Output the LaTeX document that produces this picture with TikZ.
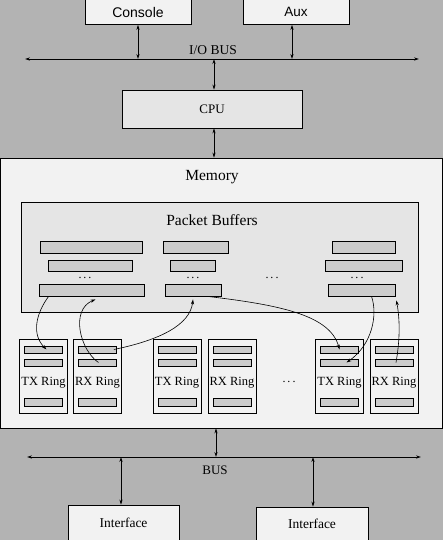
\documentclass[tikz,border=0pt]{standalone}
\usepackage{fontspec}
\setmainfont{Liberation Serif}
\newfontfamily\sansf{Liberation Sans}
\usetikzlibrary{arrows.meta}
\definecolor{bggray}{HTML}{B3B3B3}
\definecolor{memfill}{HTML}{F2F2F2}
\definecolor{pbfill}{HTML}{E5E5E5}
\definecolor{buffill}{HTML}{CCCCCC}
\tikzset{
  tip/.tip={Stealth[length=5pt,width=3.2pt]},
  box/.style={draw=black, line width=0.8pt, inner sep=0pt},
  whitebox/.style={box, fill=memfill},
  buf/.style={box, fill=buffill, minimum height=12pt},
  slot/.style={box, fill=buffill, minimum width=38pt, minimum height=7pt},
  ringbox/.style={box, fill=memfill, minimum width=48pt, minimum height=74pt},
  ringlabel/.style={font=\fontsize{12.5}{14}\selectfont, inner sep=0pt},
  dotsn/.style={font=\fontsize{12}{14}\selectfont, inner sep=0pt, anchor=base},
  conn/.style={line width=0.8pt, {tip}-{tip}},
  curvearrow/.style={line width=0.6pt, -{tip}},
}
\newcommand\mkring[3]{%
  \node[ringbox] (#1) at (#2,376) {};
  \node[slot] (#1a) at (#2,349.5) {};
  \node[slot] (#1b) at (#2,362.5) {};
  \node[slot,minimum height=8pt] (#1c) at (#2,402) {};
  \node[ringlabel] (#1t) at (#2,383) {#3};
}
\begin{document}
\begin{tikzpicture}[x=1pt,y=-1pt]
\useasboundingbox (0,0) rectangle (443,540);
\fill[bggray] (0,0) rectangle (443,540);

% top devices
\node[whitebox, minimum width=106pt, minimum height=25pt, font=\sansf\fontsize{14}{16}\selectfont] (console) at (138,12) {Console};
\node[whitebox, minimum width=106pt, minimum height=25pt, font=\sansf\fontsize{13.5}{16}\selectfont] (aux) at (296,12) {Aux};

% I/O bus
\coordinate (iobL) at (25,59);
\coordinate (iobR) at (419,59);
\coordinate (iobCon) at (138,59);
\coordinate (iobAux) at (292,59);
\coordinate (iobCpu) at (214,59);
\draw[conn] (iobL) -- (iobR);
\node[font=\fontsize{13.5}{15}\selectfont] (iolabel) at (213,50) {I/O BUS};
\draw[conn] (console.south -| iobCon) -- (iobCon);
\draw[conn] (aux.south -| iobAux) -- (iobAux);

% CPU
\node[box, fill=pbfill, minimum width=180pt, minimum height=38pt, font=\fontsize{13}{15}\selectfont] (cpu) at (212,109) {CPU};
\draw[conn] (iobCpu) -- (iobCpu |- cpu.north);

% Memory
\node[whitebox, minimum width=442pt, minimum height=270pt] (mem) at (221,293) {};
\node[font=\fontsize{15.5}{17}\selectfont] (memlabel) at (212,177) {Memory};
\draw[conn] ([xshift=2pt]cpu.south) -- ([xshift=2pt]cpu.south |- mem.north);

% Packet buffers
\node[box, fill=pbfill, minimum width=397pt, minimum height=110pt] (pb) at (219.5,257) {};
\node[font=\fontsize{15.5}{17}\selectfont] (pblabel) at (212,220) {Packet Buffers};

\node[buf, minimum width=102pt] (b11) at (91,247) {};
\node[buf, minimum width=84pt, minimum height=11pt] (b12) at (90,265.5) {};
\node[buf, minimum width=105pt] (b13) at (91.5,290) {};
\node[buf, minimum width=65pt] (b21) at (195.5,247) {};
\node[buf, minimum width=45pt, minimum height=11pt] (b22) at (192.5,265.5) {};
\node[buf, minimum width=56pt] (b23) at (193,290) {};
\node[buf, minimum width=63pt] (b31) at (363.5,247) {};
\node[buf, minimum width=77pt, minimum height=11pt] (b32) at (363.5,265.5) {};
\node[buf, minimum width=67pt] (b33) at (361.5,290) {};
\node[dotsn] (d1) at (85,278) {.\,.\,.};
\node[dotsn] (d2) at (193,278) {.\,.\,.};
\node[dotsn] (d3) at (272,278) {.\,.\,.};
\node[dotsn] (d4) at (357,278) {.\,.\,.};

% rings
\mkring{tx1}{43.5}{TX Ring}
\mkring{rx1}{97.5}{RX Ring}
\mkring{tx2}{177}{TX Ring}
\mkring{rx2}{232}{RX Ring}
\mkring{tx3}{339.5}{TX Ring}
\mkring{rx3}{394}{RX Ring}
\node[dotsn] (d5) at (289,382) {.\,.\,.};

% curved arrows
\draw[curvearrow] ([xshift=10pt]b13.south west) .. controls (35,315) and (32,335) .. ([xshift=3pt]tx1a.center);
\draw[curvearrow] ([xshift=1pt]rx1b.center) .. controls (80,350) and (70,310) .. ([xshift=4pt,yshift=-3pt]b13.south);
\draw[curvearrow] ([xshift=-3pt]rx1a.east) .. controls (160,340) and (190,325) .. ([yshift=-3pt]b23.south);
\draw[curvearrow] ([xshift=-14pt]b23.south east) .. controls (280,305) and (330,315) .. (tx3a.center);
\draw[curvearrow] ([xshift=10pt]b33.south) .. controls (378,315) and (372,345) .. ([xshift=7pt]tx3b.center);
\draw[curvearrow] ([xshift=2pt]rx3b.center) .. controls (400,340) and (400,320) .. ([xshift=1pt,yshift=-4pt]b33.south east);

% bottom bus
\coordinate (busL) at (27,457);
\coordinate (busR) at (421,457);
\coordinate (busMem) at (216,457);
\coordinate (busIf1) at (121,457);
\coordinate (busIf2) at (313,457);
\draw[conn] (busL) -- (busR);
\node[font=\fontsize{13}{15}\selectfont] (buslabel) at (215,470) {BUS};
\draw[conn] (busMem |- mem.south) -- (busMem);

\node[whitebox, minimum width=111pt, minimum height=35pt, font=\fontsize{13.5}{15}\selectfont] (if1) at (123.5,522.5) {Interface};
\node[whitebox, minimum width=112pt, minimum height=34pt, font=\fontsize{13.5}{15}\selectfont] (if2) at (312,524) {Interface};
\draw[conn] (busIf1) -- (busIf1 |- if1.north);
\draw[conn] (busIf2) -- (busIf2 |- if2.north);
\end{tikzpicture}
\end{document}
